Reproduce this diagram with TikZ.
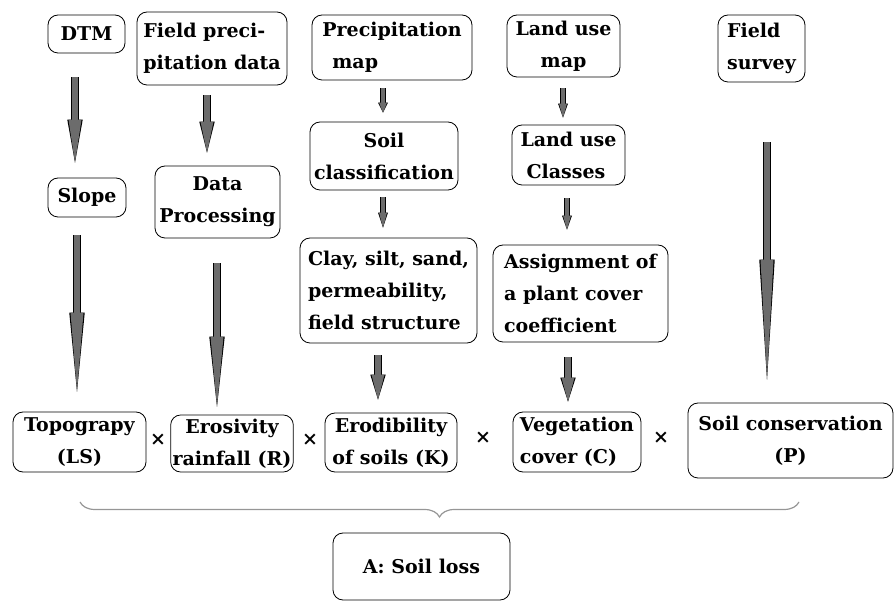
\documentclass[tikz,border=0pt]{standalone}
\usepackage{fontspec}
\setmainfont{DejaVu Serif}
\usetikzlibrary{arrows.meta}
\usetikzlibrary{decorations.pathreplacing}
\definecolor{speargray}{RGB}{108,108,108}
\definecolor{bracegray}{RGB}{150,150,150}

\begin{document}
\begin{tikzpicture}[x=1pt,y=-1pt]

\tikzset{box/.style = {draw, rounded corners=10pt, line width=0.8pt, align=center, inner sep=2pt, font=\fontsize{19}{32}\selectfont\bfseries}}
\tikzset{spear/.style = {draw=speargray, line width=6pt, -{Triangle[length=#1,width=13pt,line width=0pt]},
  preaction={draw=black, line width=8pt, -{Triangle[length=#1,width=15.5pt,line width=0pt]}}}}
\tikzset{small spear/.style = {draw=speargray, line width=3.5pt, -{Triangle[length=#1,width=8pt,line width=0pt]},
  preaction={draw=black, line width=5.5pt, -{Triangle[length=#1,width=10pt,line width=0pt]}}}}
\tikzset{times/.style = {font=\fontsize{19}{19}\selectfont\bfseries}}

\useasboundingbox (0,0) rectangle (895,601);

% inputs
\node[box, minimum width=77pt, minimum height=38pt] (dtm) at (86.5,34) {DTM};
\node[box, minimum width=150pt, minimum height=73pt, align=left] (fpd) at (212,48.5) {Field preci-\\pitation data};
\node[box, minimum width=160pt, minimum height=65pt, align=left] (pmap) at (392,47.5) {Precipitation\\\hspace*{10pt}map};
\node[box, minimum width=113pt, minimum height=62pt] (lmap) at (563.5,46) {Land use\\map};
\node[box, minimum width=87pt, minimum height=67pt, align=left] (survey) at (761.5,48.5) {Field\\survey};
% intermediate steps
\node[box, minimum width=78pt, minimum height=39pt] (slope) at (87,197.5) {Slope};
\node[box, minimum width=125pt, minimum height=72pt] (dproc) at (217.5,202) {Data\\Processing};
\node[box, minimum width=148pt, minimum height=68pt] (sclass) at (384,156) {Soil\\classification};
\node[box, minimum width=113pt, minimum height=60pt, align=left] (lclass) at (568.5,155) {Land use\\\hspace*{6pt}Classes};
\node[box, minimum width=177pt, minimum height=105pt, align=left] (clay) at (388.5,290.5) {Clay, silt, sand,\\permeability,\\field structure};
\node[box, minimum width=175pt, minimum height=97pt, align=left] (assign) at (580.5,293.5) {Assignment of\\a plant cover\\coefficient};
% factors
\node[box, minimum width=133pt, minimum height=60pt] (topo) at (79.5,442) {Topograpy\\(LS)};
\node[box, minimum width=120pt, minimum height=57pt] (erosiv) at (232,443.5) {Erosivity\\rainfall (R)};
\node[box, minimum width=132pt, minimum height=59pt] (erod) at (391,442.5) {Erodibility\\of soils (K)};
\node[box, minimum width=128pt, minimum height=60pt, align=left] (veget) at (577,442) {Vegetation\\cover (C)};
\node[box, minimum width=205pt, minimum height=75pt] (conserv) at (790.5,440.5) {Soil conservation\\(P)};
\node[box, minimum width=177pt, minimum height=67pt] (loss) at (421.5,566.5) {A: Soil loss};
\node[times] (mul1) at (158,440) {×};
\node[times] (mul2) at (310,440) {×};
\node[times] (mul3) at (483,438) {×};
\node[times] (mul4) at (661,438) {×};

%arrows
\draw[spear=43pt, shorten <=24pt, shorten >=15pt] ([xshift=-11.5pt]dtm.south) -- ([xshift=-12pt]slope.north);
\draw[spear=31pt, shorten <=10pt, shorten >=13pt] ([xshift=-5pt]fpd.south) -- ([xshift=-10.5pt]dproc.north);
\draw[spear=79pt, shorten <=18pt, shorten >=20pt] ([xshift=-10pt]slope.south) -- ([xshift=-2.5pt]topo.north);
\draw[spear=70pt, shorten <=25pt, shorten >=8pt] ([xshift=-0.5pt]dproc.south) -- ([xshift=-15pt]erosiv.north);
\draw[small spear=10pt, shorten <=8pt, shorten >=9pt] ([xshift=-9pt]pmap.south) -- ([xshift=-1pt]sclass.north);
\draw[small spear=15pt, shorten <=7pt, shorten >=10pt] ([xshift=-1pt]sclass.south) -- ([xshift=-5.5pt]clay.north);
\draw[small spear=14pt, shorten <=11pt, shorten >=7pt] ([xshift=-0.5pt]lmap.south) -- ([xshift=-5.5pt]lclass.north);
\draw[small spear=14pt, shorten <=13pt, shorten >=15pt] ([xshift=-1.5pt]lclass.south) -- ([xshift=-13.5pt]assign.north);
\draw[spear=25pt, shorten <=12pt, shorten >=13pt] ([xshift=-10.5pt]clay.south) -- ([xshift=-13pt]erod.north);
\draw[spear=24pt, shorten <=15pt, shorten >=10pt] ([xshift=-12.5pt]assign.south) -- ([xshift=-9pt]veget.north);
\draw[spear=120pt, shorten <=60pt, shorten >=23pt] ([xshift=5.5pt]survey.south) -- ([xshift=-23.5pt]conserv.north);

%brace
\draw[bracegray, line width=1.2pt, decorate, decoration={brace, amplitude=15pt, mirror}] (80,502) -- (799,502);

\end{tikzpicture}
\end{document}
